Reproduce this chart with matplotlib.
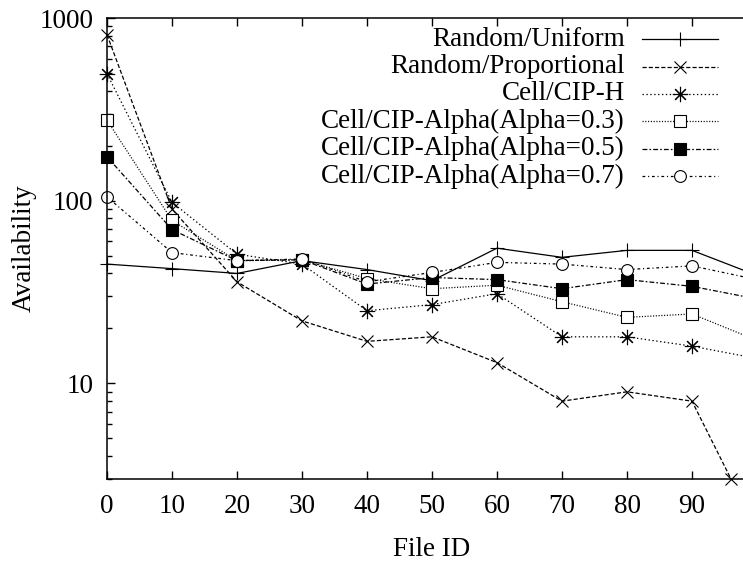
import numpy as np
import matplotlib.pyplot as plt

plt.rcParams['font.family'] = ['Liberation Serif', 'DejaVu Serif']
plt.rcParams['font.size'] = 19.5
plt.rcParams['lines.scale_dashes'] = False

# Data
file_id = [0, 10, 20, 30, 40, 50, 60, 70, 80, 90, 100]
file_id_prop = [0, 10, 20, 30, 40, 50, 60, 70, 80, 90, 96]

rand_uniform = [45, 42.5, 40, 47, 42, 36.5, 55, 49, 53.5, 53.5, 39]
rand_prop = [810, 90, 36, 22, 17, 18, 13, 8, 9, 8, 3]
cip_h = [495, 98, 51, 45, 25, 27, 31, 18, 18, 16, 13.7]
alpha03 = [276, 78, 47, 47.5, 37.5, 33, 34.5, 28, 23, 24, 17.2]
alpha05 = [174, 69.5, 47, 47.5, 35, 38, 37, 33, 37, 34, 29]
alpha07 = [105, 52, 47, 48, 36, 40.5, 46, 45, 42, 44, 37]

labels = ['Random/Uniform', 'Random/Proportional', 'Cell/CIP-H',
          'Cell/CIP-Alpha(Alpha=0.3)', 'Cell/CIP-Alpha(Alpha=0.5)',
          'Cell/CIP-Alpha(Alpha=0.7)']
xs = [file_id, file_id_prop, file_id, file_id, file_id, file_id]
ys = [rand_uniform, rand_prop, cip_h, alpha03, alpha05, alpha07]

styles = [
    dict(ls='-', marker='+', ms=10, mfc='none'),
    dict(ls=(0, (3, 1.5)), marker='x', ms=9, mfc='none'),
    dict(ls=(0, (1, 1.8)), marker=(8, 2, 0), ms=11, mfc='none'),
    dict(ls=(0, (0.8, 1.2)), marker='s', ms=8.5, mfc='white'),
    dict(ls=(0, (3.5, 1.5, 1.2, 1.5)), marker='s', ms=8.5, mfc='black'),
    dict(ls=(0, (2, 2, 0.8, 2)), marker='o', ms=8.5, mfc='white'),
]

fig = plt.figure(figsize=(7.43, 5.64), dpi=100)
ax = fig.add_axes([107 / 743, 1 - 479 / 564, 650 / 743, 461 / 564])

for x, y, st in zip(xs, ys, styles):
    ax.plot(x, y, color='black', lw=0.9, mec='black', mew=0.8,
            clip_on=False, **st)

ax.set_yscale('log')
ax.set_xlim(0, 100)
ax.set_ylim(3, 1000)
ax.set_xticks(range(0, 100, 10))
ax.set_yticks([10, 100, 1000])
ax.set_yticklabels(['10', '100', '1000'])
ax.tick_params(which='both', direction='in', top=True, right=True, width=1)
ax.tick_params(which='major', length=6)
ax.tick_params(which='minor', length=3.5)
ax.tick_params(axis='x', pad=11)
ax.tick_params(axis='y', pad=10)
for s in ax.spines.values():
    s.set_linewidth(1.1)

ax.set_xlabel('File ID')
ax.xaxis.set_label_coords(0.5, -0.154)
ax.xaxis.label.set_va('center')
ax.set_ylabel('Availability')
ax.yaxis.set_label_coords(-0.128, 0.5)
ax.yaxis.label.set_va('center')

# legend drawn by hand: text right-aligned, sample on the right
for i, (lab, st) in enumerate(zip(labels, styles)):
    yy = 0.954 - i * 0.0594
    ax.text(0.797, yy, lab, transform=ax.transAxes, ha='right', va='center')
    ax.plot([0.823, 0.940], [yy, yy], transform=ax.transAxes, color='black',
            lw=0.9, ls=st['ls'], clip_on=False)
    ax.plot([0.8815], [yy], transform=ax.transAxes, color='black',
            marker=st['marker'], ms=st['ms'], mfc=st['mfc'], mec='black',
            mew=0.8, clip_on=False)

fig.savefig('out.png', dpi=100)
